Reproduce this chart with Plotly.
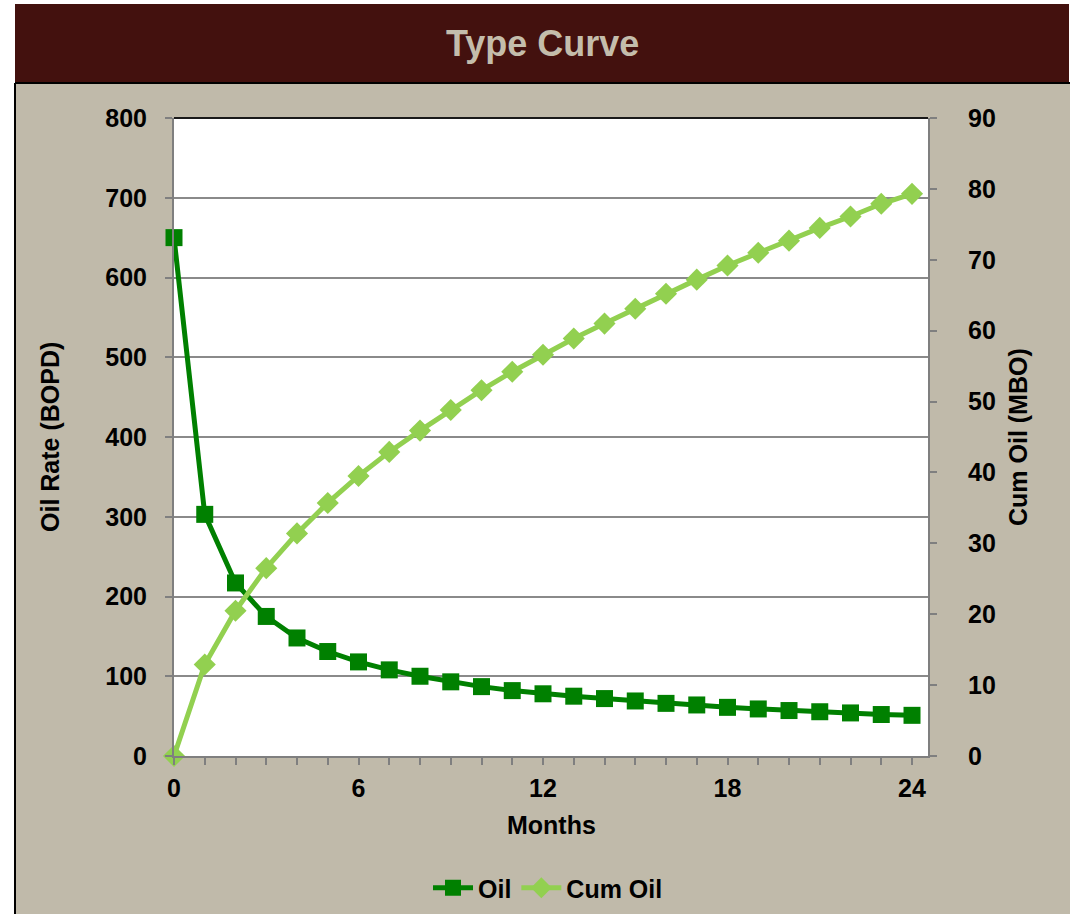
import plotly.graph_objects as go

# Monthly type-curve forecast
months = list(range(25))
oil_rate_bopd = [650, 303, 217, 175, 148, 131, 118, 108, 100, 93, 87, 82, 78,
                 75, 72, 69, 66, 64, 61, 59, 57, 55.5, 54, 52, 51]
cum_oil_mbo = [0, 12.9, 20.5, 26.5, 31.4, 35.7, 39.5, 42.9, 45.9, 48.8, 51.6,
               54.2, 56.6, 58.9, 61.0, 63.1, 65.2, 67.2, 69.2, 71.0, 72.7,
               74.5, 76.1, 77.9, 79.3]

x_ticks = [0, 6, 12, 18, 24]
left_ticks = list(range(0, 801, 100))
right_ticks = list(range(0, 91, 10))

W, H = 1075, 914
L, R, T, B = 174, 928, 118, 756   # plot area edges in pixels


def px(xp):
    return (xp - L) / (R - L)


def py(yp):
    return (B - yp) / (B - T)


FONT = "Liberation Sans, Arial, sans-serif"
PANEL = "#C0BAAA"
BAR = "#43110E"
GRID = "#8A8A8A"
AXIS = "#7F7F7F"

fig = go.Figure()
fig.add_trace(go.Scatter(
    x=months, y=oil_rate_bopd, name="Oil", mode="lines+markers",
    line=dict(color="#008000", width=5),
    marker=dict(symbol="square", size=17, color="#008000"),
    cliponaxis=False, yaxis="y"))
fig.add_trace(go.Scatter(
    x=months, y=cum_oil_mbo, name="Cum Oil", mode="lines+markers",
    line=dict(color="#92D050", width=5),
    marker=dict(symbol="diamond", size=17, color="#92D050"),
    cliponaxis=False, yaxis="y2"))

tickfont = dict(family=FONT, size=25, color="black", weight="bold")

fig.update_layout(
    width=W, height=H, autosize=False,
    margin=dict(l=L, r=W - R, t=T, b=H - B, pad=0, autoexpand=False),
    paper_bgcolor="white", plot_bgcolor="white",
    showlegend=True,
    legend=dict(orientation="h", xref="container", yref="container",
                x=548 / W, y=(H - 888) / H, xanchor="center",
                yanchor="middle", bgcolor="rgba(0,0,0,0)",
                font=dict(family=FONT, size=25, color="black", weight="bold"),
                itemwidth=40, tracegroupgap=0),
    xaxis=dict(range=[0, 24.52], tickvals=x_ticks, ticks="outside", ticklen=7,
               tickwidth=2, tickcolor=AXIS, showline=True, linecolor=AXIS,
               linewidth=2, showgrid=False, zeroline=False, tickfont=tickfont,
               ticklabelstandoff=2, automargin=False,
               minor=dict(dtick=1, tick0=0, ticks="outside", ticklen=7,
                          tickwidth=2, tickcolor=AXIS, showgrid=False)),
    yaxis=dict(range=[0, 800], tickvals=left_ticks, ticks="outside", ticklen=7,
               tickwidth=2, tickcolor=AXIS, showline=True, linecolor=AXIS,
               linewidth=2, showgrid=True, gridcolor=GRID, gridwidth=2,
               zeroline=False, tickfont=tickfont, ticklabelstandoff=13,
               automargin=False),
    yaxis2=dict(range=[0, 90], tickvals=right_ticks, overlaying="y",
                side="right", ticks="outside", ticklen=7, tickwidth=2,
                tickcolor=AXIS, showline=True, linecolor=AXIS, linewidth=2,
                showgrid=False, zeroline=False, tickfont=tickfont,
                ticklabelstandoff=26, automargin=False),
)

# Background panel, title band, panel borders and white plotting area
fig.add_shape(type="rect", xref="paper", yref="paper", layer="below",
              x0=px(15), x1=px(1070), y0=py(914), y1=py(83),
              fillcolor=PANEL, line=dict(width=0))
fig.add_shape(type="rect", xref="paper", yref="paper", layer="below",
              x0=px(15), x1=px(1069), y0=py(83), y1=py(4),
              fillcolor=BAR, line=dict(width=0))
fig.add_shape(type="line", xref="paper", yref="paper", layer="below",
              x0=px(15), x1=px(15), y0=py(914), y1=py(83),
              line=dict(color="black", width=2))
fig.add_shape(type="line", xref="paper", yref="paper", layer="below",
              x0=px(15), x1=px(1070), y0=py(83), y1=py(83),
              line=dict(color="black", width=2))
fig.add_shape(type="rect", xref="paper", yref="paper", layer="below",
              x0=0, x1=1, y0=0, y1=1, fillcolor="white", line=dict(width=0))
# darker top edge of the plotting area
fig.add_shape(type="line", xref="paper", yref="paper", layer="above",
              x0=0, x1=1, y0=1, y1=1, line=dict(color="#1A1A1A", width=2))

annos = [
    dict(text="Type Curve", x=px(542), y=py(44), xanchor="center",
         yanchor="middle", font=dict(family=FONT, size=36, color="#C4BDAB",
                                     weight="bold")),
    dict(text="Months", x=px(551), y=py(825), xanchor="center",
         yanchor="middle", font=dict(family=FONT, size=25, color="black",
                                     weight="bold")),
    dict(text="Oil Rate (BOPD)", x=px(50), y=py(437), xanchor="center",
         yanchor="middle", textangle=-90,
         font=dict(family=FONT, size=25, color="black", weight="bold")),
    dict(text="Cum Oil (MBO)", x=px(1018), y=py(437), xanchor="center",
         yanchor="middle", textangle=-90,
         font=dict(family=FONT, size=25, color="black", weight="bold")),
]
for a in annos:
    fig.add_annotation(xref="paper", yref="paper", showarrow=False, **a)

fig.write_html("out.html")
